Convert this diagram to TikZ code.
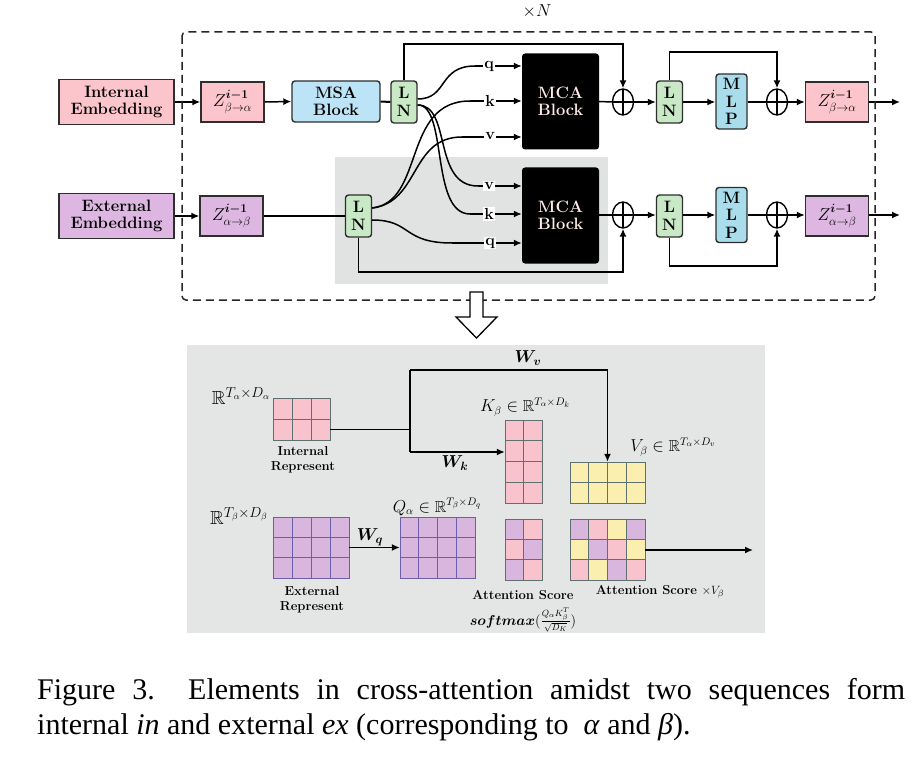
\documentclass[tikz,border=0pt]{standalone}
\usepackage{amsmath,amssymb,bm}
\usepackage{fontspec}
\newfontfamily\capfont{Liberation Serif}
\usetikzlibrary{arrows.meta,calc,shapes.geometric}
\definecolor{pinkE}{HTML}{FCC5CC}
\definecolor{purpE}{HTML}{DDB7E2}
\definecolor{blueM}{HTML}{BDE4F6}
\definecolor{greenL}{HTML}{C9E8C5}
\definecolor{tealM}{HTML}{A9DDEC}
\definecolor{grayR}{HTML}{E1E3E3}
\definecolor{panelG}{HTML}{E4E6E6}
\definecolor{edgeD}{HTML}{2E2E2E}
\definecolor{mcaText}{HTML}{FCEAE6}
\definecolor{cPink}{HTML}{F9C3CD}
\definecolor{cPurp}{HTML}{D8B6DE}
\definecolor{cYell}{HTML}{FBEFB0}
\definecolor{gridG}{HTML}{5E7070}
\definecolor{gridP}{HTML}{6A5FA8}
\begin{document}
\begin{tikzpicture}[x=1pt,y=-1pt,
  bf/.style={font=\fontsize{16.5}{17.5}\selectfont\bfseries},
  emb/.style={draw=edgeD, line width=1.4pt, minimum width=115pt, minimum height=45pt, inner sep=0pt, align=center, bf},
  zbox/.style={draw=edgeD, line width=1.4pt, minimum width=63pt, minimum height=40pt, inner sep=0pt, font=\fontsize{17}{18}\selectfont},
  msa/.style={draw=edgeD, line width=1.4pt, rounded corners=3pt, fill=blueM, minimum width=88pt, minimum height=41pt, inner sep=0pt, align=center, bf},
  lnbox/.style={draw=edgeD, line width=1.4pt, rounded corners=3pt, fill=greenL, minimum width=26pt, minimum height=42pt, inner sep=0pt, align=center, bf},
  mlpbox/.style={draw=edgeD, line width=1.4pt, rounded corners=3pt, fill=tealM, minimum width=31pt, minimum height=55pt, inner sep=0pt, align=center, bf},
  mca/.style={fill=black, rounded corners=3pt, minimum width=77pt, minimum height=96pt, inner sep=0pt, align=center, text=mcaText, bf},
  plusnode/.style={ellipse, draw=black, line width=1.4pt, minimum width=21pt, minimum height=26pt, inner sep=0pt,
    path picture={\draw[line width=1.3pt] (path picture bounding box.north) -- (path picture bounding box.south)
      (path picture bounding box.west) -- (path picture bounding box.east);}},
  wl/.style={inner sep=1pt, fill=white, font=\fontsize{16}{17}\selectfont\bfseries},
  ln/.style={line width=1.5pt, black},
  arr/.style={line width=1.5pt, black, -{Latex[length=8pt,width=7pt]}},
  mat/.style={inner sep=0pt, minimum width=#1},
  cell/.style={line width=0.8pt},
  txt/.style={inner sep=0pt, align=center, font=\fontsize{13}{15}\selectfont\bfseries},
  mth/.style={inner sep=0pt, font=\fontsize{14}{15}\selectfont},
]
\useasboundingbox (0,0) rectangle (922,765);
\fill[white] (0,0) rectangle (922,765);

% background regions
\fill[grayR] (335,157) rectangle (608,284);
\fill[panelG] (187,345) rectangle (765,633);

% top block nodes
\node[emb, fill=pinkE] (IE) at (116.5,102) {Internal\\Embedding};
\node[emb, fill=purpE] (EE) at (116.5,216) {External\\Embedding};
\node[zbox, fill=pinkE] (Z1) at (232.5,102) {$Z^{\bm{i-1}}_{\beta\rightarrow\alpha}$};
\node[zbox, fill=purpE] (Z2) at (231.5,216) {$Z^{\bm{i-1}}_{\alpha\rightarrow\beta}$};
\node[msa] (MSA) at (336,101.5) {MSA\\Block};
\node[lnbox] (LN1) at (404,102) {L\\N};
\node[lnbox] (LN2) at (358.5,216) {L\\N};
\node[mca] (MCA1) at (560.5,101.5) {MCA\\Block};
\node[mca] (MCA2) at (560.5,215.5) {MCA\\Block};
\node[plusnode] (P1) at (623,102) {};
\node[plusnode] (P3) at (623,215) {};
\node[lnbox] (LN3) at (669.5,102) {L\\N};
\node[lnbox] (LN4) at (669.5,216) {L\\N};
\node[mlpbox] (MLP1) at (731.5,101.5) {M\\L\\P};
\node[mlpbox] (MLP2) at (731.5,215) {M\\L\\P};
\node[plusnode] (P2) at (777,102) {};
\node[plusnode] (P4) at (777,215) {};
\node[zbox, fill=pinkE] (ZO1) at (837,102) {$Z^{\bm{i-1}}_{\beta\rightarrow\alpha}$};
\node[zbox, fill=purpE] (ZO2) at (837,216) {$Z^{\bm{i-1}}_{\alpha\rightarrow\beta}$};
\coordinate (out1) at (900,102);
\coordinate (out2) at (900,216);
\node[inner sep=0pt, font=\fontsize{17}{18}\selectfont] (xN) at (537,11) {$\times N$};

% straight connectors
\draw[arr] (IE.east) -- (Z1.west);
\draw[arr] (EE.east) -- (Z2.west);
\draw[arr] (Z1.east) -- (MSA.west);
\draw[ln, line width=2pt] (MSA.east) -- (LN1.west);
\draw[ln, line width=2pt] (Z2.east) -- (LN2.west);
\draw[ln] (MCA1.east) -- (P1.west);
\draw[ln] (MCA2.east |- P3.west) -- (P3.west);
\draw[arr] (P1.east) -- (LN3.west);
\draw[arr] (P3.east) -- (LN4.west |- P3.east);
\draw[arr] (LN3.east) -- (MLP1.west |- LN3.east);
\draw[arr] (LN4.east |- P4.west) -- (MLP2.west |- P4.west);
\draw[ln] (MLP1.east |- P2.west) -- (P2.west);
\draw[ln] (MLP2.east |- P4.west) -- (P4.west);
\draw[arr] (P2.east) -- (ZO1.west);
\draw[arr] (P4.east) -- (ZO2.west |- P4.east);
\draw[arr] (ZO1.east) -- (out1);
\draw[arr] (ZO2.east |- P4.east) -- (out2 |- P4.east);

% skip connections
\coordinate (s1) at (404,44);
\coordinate (s2) at (669.5,52);
\coordinate (s3) at (358.5,272);
\coordinate (s4) at (669.5,266);
\draw[arr] (LN1.north) -- (s1) -| (P1.north);
\draw[arr] (LN3.north) -- (s2) -| (P2.north);
\draw[arr] (LN2.south) -- (s3) -| (P3.south);
\draw[arr] (LN4.south) -- (s4) -| (P4.south);

% curved q k v connectors
\coordinate (a1) at ($(LN1.east)+(0,-3)$);
\coordinate (a2) at ($(LN1.east)+(0,3)$);
\coordinate (b1) at ($(LN2.east)+(0,-8)$);
\coordinate (b2) at ($(LN2.east)+(0,4)$);
\coordinate (tq) at (475,66);
\coordinate (tk) at (470,101);
\coordinate (tv) at (462,137);
\coordinate (bv) at (478,186);
\coordinate (bk) at (470,214);
\coordinate (bq) at (452,243);
\draw[ln] (a1) .. controls (448,99) and (438,66) .. (tq);
\draw[arr] (tq) -- (tq -| MCA1.west);
\draw[ln] (b1) .. controls (425,202) and (402,101) .. (tk);
\draw[arr] (tk) -- (tk -| MCA1.west);
\draw[ln] (b1) .. controls (420,202) and (410,137) .. (tv);
\draw[arr] (tv) -- (tv -| MCA1.west);
\draw[ln] (a2) .. controls (452,105) and (432,186) .. (bv);
\draw[arr] (bv) -- (bv -| MCA2.west);
\draw[ln] (a2) .. controls (448,105) and (430,214) .. (bk);
\draw[arr] (bk) -- (bk -| MCA2.west);
\draw[ln] (b2) .. controls (412,220) and (402,243) .. (bq);
\draw[arr] (bq) -- (bq -| MCA2.west);
\node[wl] (lq1) at (489,66) {q};
\node[wl] (lk1) at (490,101) {k};
\node[wl] (lv1) at (490,136) {v};
\node[wl] (lv2) at (489,186) {v};
\node[wl] (lk2) at (489,214) {k};
\node[wl] (lq2) at (490,243) {q};

% dashed frame
\draw[line width=1.5pt, dash pattern=on 8pt off 5pt, rounded corners=4pt, black!85] (182,32) rectangle (875,300);

% hollow down arrow
\draw[line width=1.3pt, fill=white] (470,292) -- (483,292) -- (483,317) -- (497,317) -- (476.5,338) -- (456,317) -- (470,317) -- cycle;

% ---------------- bottom panel ----------------
% Internal represent 3x2
\foreach \i in {0,1,2} \foreach \j in {0,1}
  \draw[cell, fill=cPink, draw=gridG] (273+\i*19,398+\j*21) rectangle ++(19,21);
\node[mat=57pt, minimum height=42pt] (IR) at (301.5,419) {};
% K 2x4
\foreach \i in {0,1} \foreach \j in {0,1,2,3}
  \draw[cell, fill=cPink, draw=gridG] (505+\i*18.5,420+\j*20.75) rectangle ++(18.5,20.75);
\node[mat=37pt, minimum height=83pt] (KM) at (523.5,461.5) {};
% V 4x2
\foreach \i in {0,1,2,3} \foreach \j in {0,1}
  \draw[cell, fill=cYell, draw=gridG] (570+\i*18.75,462+\j*20.5) rectangle ++(18.75,20.5);
\node[mat=75pt, minimum height=41pt] (VM) at (607.5,482.5) {};
% External represent 4x3
\foreach \i in {0,1,2,3} \foreach \j in {0,1,2}
  \draw[cell, fill=cPurp, draw=gridP] (273+\i*19,517+\j*20.33) rectangle ++(19,20.33);
\node[mat=76pt, minimum height=61pt] (ER) at (311,547.5) {};
% Q 4x3
\foreach \i in {0,1,2,3} \foreach \j in {0,1,2}
  \draw[cell, fill=cPurp, draw=gridP] (400+\i*18.75,517+\j*20.33) rectangle ++(18.75,20.33);
\node[mat=75pt, minimum height=61pt] (QM) at (437.5,547.5) {};
% Attention score 2x3
\foreach \i/\j/\c in {0/0/cPurp,1/0/cPink,0/1/cPink,1/1/cPurp,0/2/cPurp,1/2/cPink}
  \draw[cell, fill=\c, draw=gridG] (505+\i*18.5,519+\j*20.33) rectangle ++(18.5,20.33);
\node[mat=37pt, minimum height=61pt] (AM) at (523.5,549.5) {};
% Attention x V 4x3
\foreach \i/\j/\c in {0/0/cPurp,1/0/cPink,2/0/cYell,3/0/cPurp,
                      0/1/cYell,1/1/cPurp,2/1/cPink,3/1/cYell,
                      0/2/cPink,1/2/cYell,2/2/cPurp,3/2/cPink}
  \draw[cell, fill=\c, draw=gridG] (570+\i*18.75,519+\j*20.33) rectangle ++(18.75,20.33);
\node[mat=75pt, minimum height=61pt] (AV) at (607.5,549.5) {};
\coordinate (avout) at (753,550);

% bottom connectors
\coordinate (jn) at (410,429.5);
\coordinate (jt) at (410,370);
\coordinate (jb) at (410,452);
\draw[ln] ($(IR.east)+(0,10.5)$) -- (jn);
\draw[ln] (jt) -- (jb);
\draw[arr] (jb) -- (jb -| KM.west);
\draw[arr] (jt) -| (VM.north);
\draw[arr] (ER.east) -- (QM.west);
\draw[arr] (AV.east |- avout) -- (avout);

% bottom labels
\node[mth, font=\fontsize{19}{20}\selectfont] (rin) at (241,396) {$\mathbb{R}^{T_\alpha\times D_\alpha}$};
\node[txt] (tin) at (303,460) {Internal\\Represent};
\node[mth, font=\fontsize{18}{19}\selectfont] (wv) at (528,358) {$\bm{W_v}$};
\node[mth, font=\fontsize{18}{19}\selectfont] (wk) at (455,463) {$\bm{W_k}$};
\node[mth, font=\fontsize{18}{19}\selectfont] (wq) at (370,537) {$\bm{W_q}$};
\node[mth, font=\fontsize{16}{17}\selectfont] (kl) at (525,407) {$K_\beta\in\mathbb{R}^{T_\alpha\times D_k}$};
\node[mth, font=\fontsize{16}{17}\selectfont] (vl) at (673,447) {$V_\beta\in\mathbb{R}^{T_\alpha\times D_v}$};
\node[mth, font=\fontsize{19}{20}\selectfont] (rex) at (239,516) {$\mathbb{R}^{T_\beta\times D_\beta}$};
\node[mth, font=\fontsize{16}{17}\selectfont] (ql) at (437,507) {$Q_\alpha\in\mathbb{R}^{T_\beta\times D_q}$};
\node[txt] (tex) at (312,600) {External\\Represent};
\node[txt] (tas) at (523,595) {Attention Score};
\node[mth, font=\fontsize{13.5}{14}\selectfont] (tsm) at (523,620) {$\bm{softmax}(\frac{Q_\alpha K_\beta^T}{\sqrt{D_K}})$};
\node[txt] (tav) at (660,592) {Attention Score $\times V_\beta$};

% caption
\node[anchor=base west, inner sep=0pt] (cap1) at (37,699) {\capfont\fontsize{30}{36}\selectfont\makebox[868pt][s]{Figure 3.\ \ Elements in cross-attention amidst two sequences form}};
\node[anchor=base west, inner sep=0pt] (cap2) at (37,734) {\capfont\fontsize{30}{36}\selectfont internal \textit{in} and external \textit{ex} (corresponding to \ \textit{α} and \textit{β}).};
\end{tikzpicture}
\end{document}
